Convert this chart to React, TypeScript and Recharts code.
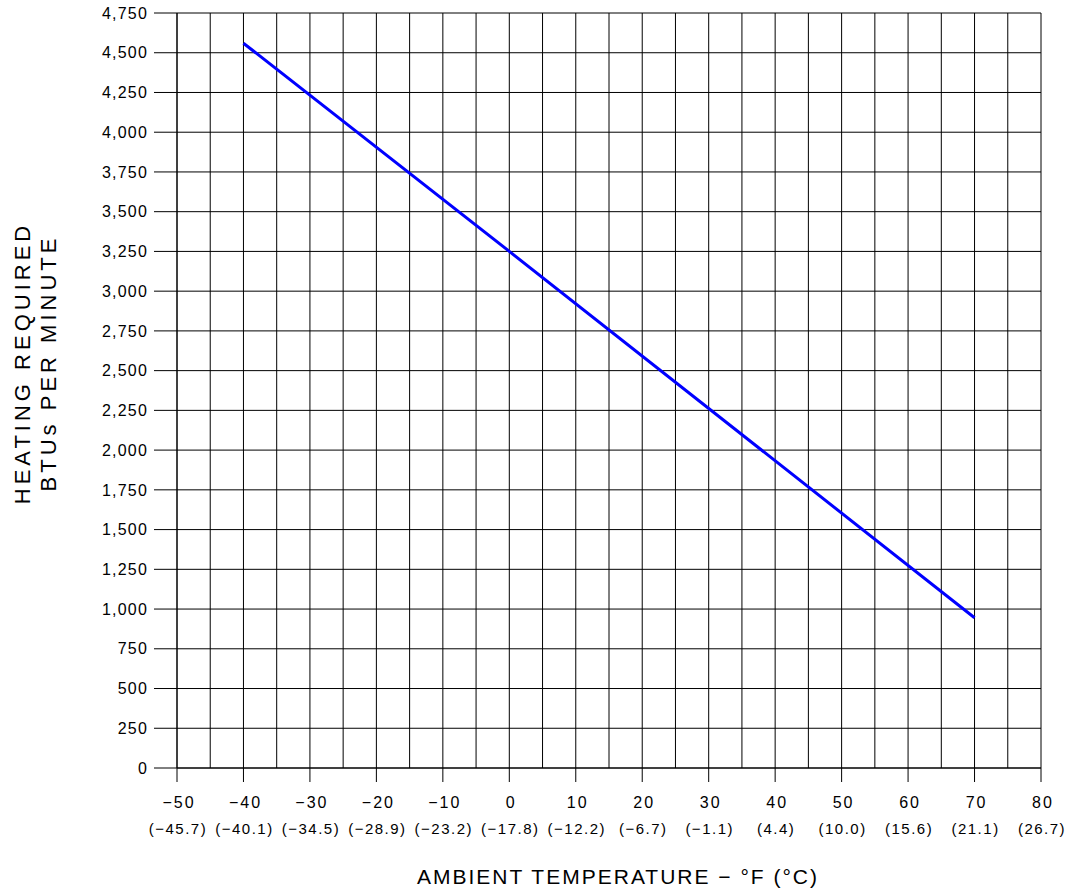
import React from 'react';
import { LineChart, Line, XAxis, YAxis, CartesianGrid } from 'recharts';

// temperature in °F, heating in BTU per minute
const tempF = [-40, 0, 70];
const btuPerMin = [4560, 3250, 945];

const xTicks = [-50, -40, -30, -20, -10, 0, 10, 20, 30, 40, 50, 60, 70, 80];
const celsiusLabels = [
  '(−45.7)', '(−40.1)', '(−34.5)', '(−28.9)', '(−23.2)', '(−17.8)', '(−12.2)',
  '(−6.7)', '(−1.1)', '(4.4)', '(10.0)', '(15.6)', '(21.1)', '(26.7)',
];
const gridX = [-45, -35, -25, -15, -5, 5, 15, 25, 35, 45, 55, 65, 75, ...xTicks];
const yTicks = [0, 250, 500, 750, 1000, 1250, 1500, 1750, 2000, 2250, 2500, 2750, 3000, 3250, 3500, 3750, 4000, 4250, 4500, 4750];

const data = tempF.map((t, i) => ({ t, btu: btuPerMin[i] }));

const FONT = '"Liberation Sans", Arial, sans-serif';

const fmtNum = (v: number) => (v < 0 ? '−' + Math.abs(v) : String(v));

const TempTick = (props: any) => {
  const { x, y, payload } = props;
  const idx = xTicks.indexOf(payload.value);
  return (
    <g>
      <text x={x + 2} y={y + 26} textAnchor="middle" fontFamily={FONT} fontSize={16} letterSpacing={2} fill="#000">
        {fmtNum(payload.value)}
      </text>
      <text x={x + 1} y={y + 52} textAnchor="middle" fontFamily={FONT} fontSize={15} letterSpacing={1.5} fill="#000">
        {celsiusLabels[idx]}
      </text>
    </g>
  );
};

export default function App() {
  return (
    <div style={{ position: 'absolute', left: 0, top: 0, width: 1073, height: 890, background: '#fff' }}>
      <LineChart width={1073} height={890} data={data} margin={{ top: 13, right: 32, left: 0, bottom: 0 }}>
        <CartesianGrid stroke="#000" strokeWidth={1} verticalValues={gridX} horizontalValues={yTicks} />
        <XAxis
          dataKey="t"
          type="number"
          domain={[-50, 80]}
          ticks={xTicks}
          interval={0}
          height={122}
          tickSize={14}
          tickMargin={0}
          axisLine={{ stroke: '#000' }}
          tickLine={{ stroke: '#000' }}
          tick={<TempTick />}
        />
        <YAxis
          type="number"
          domain={[0, 4750]}
          ticks={yTicks}
          interval={0}
          width={177}
          tickSize={23}
          tickMargin={6}
          axisLine={{ stroke: '#000' }}
          tickLine={{ stroke: '#000' }}
          tickFormatter={(v: number) => v.toLocaleString('en-US')}
          tick={{ fill: '#000', fontSize: 16, fontFamily: FONT, letterSpacing: 1.2 }}
        />
        <Line
          type="linear"
          dataKey="btu"
          stroke="#0000ff"
          strokeWidth={3}
          dot={false}
          isAnimationActive={false}
        />
        <text x={22} y={363} transform="rotate(-90 22 363)" textAnchor="middle" dominantBaseline="central"
          fontFamily={FONT} fontSize={22} letterSpacing={4} fill="#000">
          HEATING REQUIRED
        </text>
        <text x={48} y={363} transform="rotate(-90 48 363)" textAnchor="middle" dominantBaseline="central"
          fontFamily={FONT} fontSize={22} letterSpacing={4} fill="#000">
          BTUs PER MINUTE
        </text>
        <text x={618} y={884} textAnchor="middle" fontFamily={FONT} fontSize={21} letterSpacing={2} fill="#000">
          AMBIENT  TEMPERATURE  −  °F  (°C)
        </text>
      </LineChart>
    </div>
  );
}
